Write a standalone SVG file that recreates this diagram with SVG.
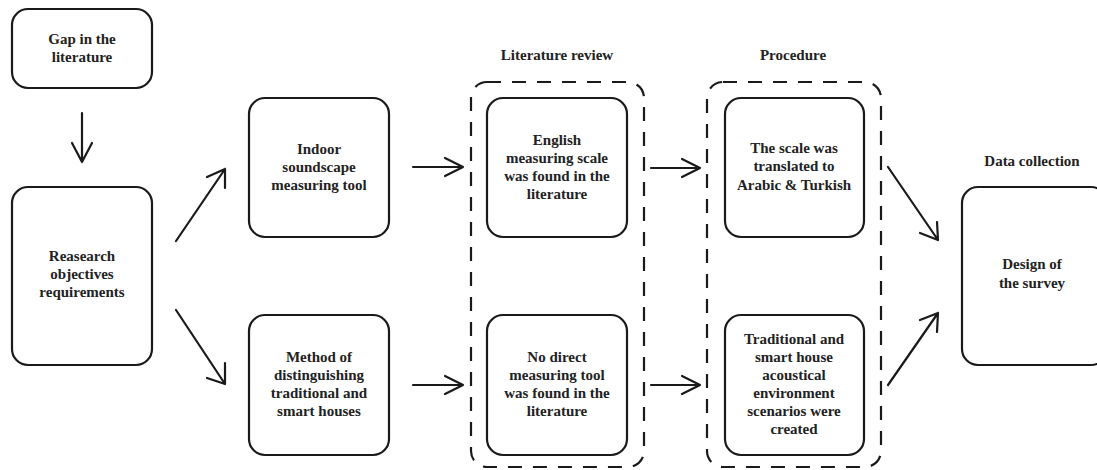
<svg xmlns="http://www.w3.org/2000/svg" width="1097" height="470" viewBox="0 0 1097 470">
<defs>
<style>
.box{fill:#fff;stroke:#1a1a1a;stroke-width:2.2}
.grp{fill:none;stroke:#1a1a1a;stroke-width:2.2;stroke-dasharray:14 11}
text{font-family:'Liberation Serif','Times New Roman',serif;font-weight:bold;font-size:15px;fill:#222;text-anchor:middle}
.c{fill:none;stroke:#1a1a1a;stroke-width:2.2;stroke-linecap:round;stroke-linejoin:round}
</style>
</defs>
<rect width="1097" height="470" fill="#fff"/>
<g id="group-literature">
<rect class="grp" x="471" y="82" width="173" height="385" rx="16"/>
<text x="557" y="60">Literature review</text>
</g>
<g id="group-procedure">
<rect class="grp" x="707" y="82" width="174" height="385" rx="16"/>
<text x="793" y="60">Procedure</text>
</g>
<g id="label-data">
<text x="1032" y="166">Data collection</text>
</g>
<g id="gap">
<rect class="box" x="12" y="9" width="140" height="79" rx="16"/>
<text x="82" y="44">Gap in the</text>
<text x="82" y="62">literature</text>
</g>
<g id="research">
<rect class="box" x="12" y="187" width="140" height="178" rx="16"/>
<text x="82" y="261">Reasearch</text>
<text x="82" y="279">objectives</text>
<text x="82" y="297">requirements</text>
</g>
<g id="indoor">
<rect class="box" x="249" y="98" width="140" height="139" rx="16"/>
<text x="319" y="154">Indoor</text>
<text x="319" y="172">soundscape</text>
<text x="319" y="190">measuring tool</text>
</g>
<g id="method">
<rect class="box" x="249" y="315" width="140" height="140" rx="16"/>
<text x="319" y="362">Method of</text>
<text x="319" y="380">distinguishing</text>
<text x="319" y="398">traditional and</text>
<text x="319" y="416">smart houses</text>
</g>
<g id="english">
<rect class="box" x="487" y="98" width="140" height="139" rx="16"/>
<text x="557" y="145">English</text>
<text x="557" y="163">measuring scale</text>
<text x="557" y="181">was found in the</text>
<text x="557" y="199">literature</text>
</g>
<g id="nodirect">
<rect class="box" x="487" y="315" width="140" height="140" rx="16"/>
<text x="557" y="362">No direct</text>
<text x="557" y="380">measuring tool</text>
<text x="557" y="398">was found in the</text>
<text x="557" y="416">literature</text>
</g>
<g id="scale">
<rect class="box" x="725" y="98" width="139" height="139" rx="16"/>
<text x="794" y="153">The scale was</text>
<text x="794" y="171">translated to</text>
<text x="794" y="190">Arabic &amp; Turkish</text>
</g>
<g id="scenarios">
<rect class="box" x="725" y="315" width="139" height="140" rx="16"/>
<text x="794" y="344">Traditional and</text>
<text x="794" y="362">smart house</text>
<text x="794" y="380">acoustical</text>
<text x="794" y="398">environment</text>
<text x="794" y="416">scenarios were</text>
<text x="794" y="434">created</text>
</g>
<g id="design">
<rect class="box" x="962" y="187" width="145" height="178" rx="16"/>
<text x="1032" y="269">Design of</text>
<text x="1032" y="288">the survey</text>
</g>
<g id="connectors">
<path class="c" d="M82 113 V162 M72 143 L82 162 L92 143"/>
<path class="c" d="M176 241 L225 169 M207 177 L225 169 L225 188"/>
<path class="c" d="M176 310 L225 384 M207 378 L225 384 L225 363"/>
<path class="c" d="M413 167 H463 M445 158 L463 167 L445 176"/>
<path class="c" d="M413 385 H463 M445 376 L463 385 L445 394"/>
<path class="c" d="M651 168 H700 M682 159 L700 168 L682 177"/>
<path class="c" d="M651 385 H700 M682 376 L700 385 L682 394"/>
<path class="c" d="M888 167 L938 240 M920 233 L938 240 L937 222"/>
<path class="c" d="M888 385 L938 313 M920 320 L938 313 L937 332"/>
</g>
</svg>
